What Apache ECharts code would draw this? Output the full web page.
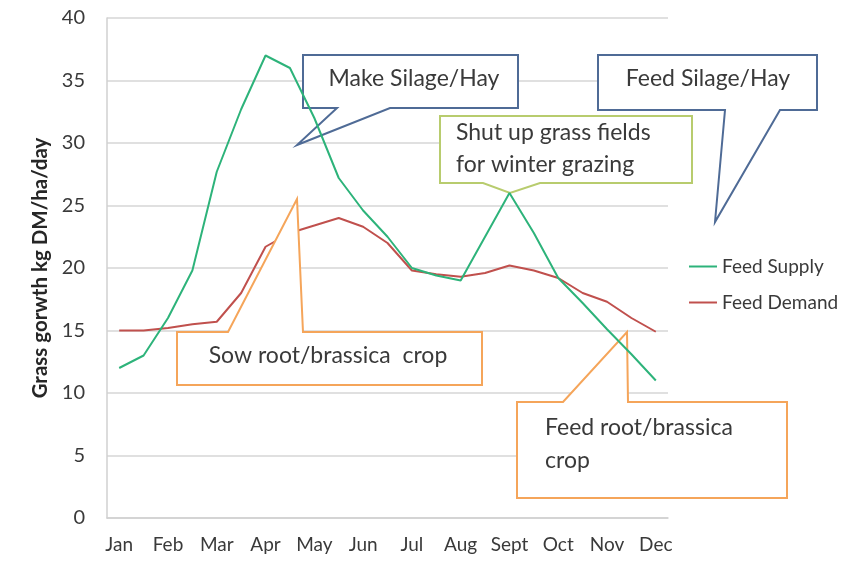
<!DOCTYPE html>
<html>
<head>
<meta charset="utf-8">
<script src="https://cdn.jsdelivr.net/npm/echarts@6/dist/echarts.min.js"></script>
<style>
  html, body { margin: 0; padding: 0; background: #fff; }
  #chart { width: 865px; height: 563px; }
</style>
</head>
<body>
<div id="chart"></div>
<script>
// half-month points, month name on every other one
const months = ['Jan', '', 'Feb', '', 'Mar', '', 'Apr', '', 'May', '', 'Jun', '',
  'Jul', '', 'Aug', '', 'Sept', '', 'Oct', '', 'Nov', '', 'Dec'];
const feedSupply = [12.0, 13.0, 16.0, 19.8, 27.7, 32.7, 37.0, 36.0, 32.0, 27.2, 24.6, 22.5,
  20.0, 19.4, 19.0, 22.5, 26.0, 22.8, 19.2, 17.2, 15.1, 13.1, 11.0];
const feedDemand = [15.0, 15.0, 15.2, 15.5, 15.7, 18.0, 21.7, 22.8, 23.4, 24.0, 23.3, 22.0,
  19.8, 19.5, 19.3, 19.6, 20.2, 19.8, 19.2, 18.0, 17.3, 16.0, 14.9];
const yTicks = [0, 5, 10, 15, 20, 25, 30, 35, 40];

const FONT = 'Lato, "Open Sans", sans-serif';
const TEXT = '#3a3a3a';

// callout box with a pointer on the bottom or top edge
function callout(box, base, tip, color, onTop) {
  const [x1, y1, x2, y2] = box;
  const pts = onTop
    ? [[x1, y1], [base[0], y1], tip, [base[1], y1], [x2, y1], [x2, y2], [x1, y2]]
    : [[x1, y1], [x2, y1], [x2, y2], [base[1], y2], tip, [base[0], y2], [x1, y2]];
  return {
    type: 'polygon', z: 5,
    shape: { points: pts },
    style: { fill: '#fff', stroke: color, lineWidth: 2 }
  };
}
function label(x, y, text, align) {
  return {
    type: 'text', z: 6,
    style: {
      x: x, y: y, text: text, fill: TEXT,
      font: '23px ' + FONT,
      textAlign: align || 'center', textVerticalAlign: 'middle'
    }
  };
}

const chart = echarts.init(document.getElementById('chart'));

const option = {
  animation: false,
  grid: { left: 107, right: 197, top: 18, bottom: 45 },
  legend: {
    orient: 'vertical',
    left: 689, top: 257, padding: 0,
    icon: 'rect',
    itemWidth: 28, itemHeight: 2, itemGap: 17,
    textStyle: { color: TEXT, fontSize: 19, fontFamily: FONT },
    data: ['Feed Supply', 'Feed Demand']
  },
  xAxis: {
    type: 'category',
    data: months,
    axisTick: { show: false },
    axisLine: { lineStyle: { color: '#d0d0d0', width: 1.5 } },
    axisLabel: { interval: 0, color: TEXT, fontSize: 19, fontFamily: FONT, margin: 17 }
  },
  yAxis: {
    type: 'value',
    min: yTicks[0], max: yTicks[yTicks.length - 1], interval: 5,
    name: 'Grass gorwth kg DM/ha/day',
    nameLocation: 'middle', nameGap: 55, nameRotate: 90,
    nameTextStyle: { color: '#262626', fontSize: 20.5, fontWeight: 'bold', fontFamily: FONT },
    axisLine: { show: true, lineStyle: { color: '#d0d0d0', width: 1.5 } },
    axisTick: { show: false },
    splitLine: { lineStyle: { color: '#d6d6d6', width: 1.5 } },
    axisLabel: { color: TEXT, fontSize: 20, fontFamily: FONT, margin: 22 }
  },
  series: [
    {
      name: 'Feed Supply', type: 'line', z: 10,
      data: feedSupply, symbol: 'none',
      lineStyle: { color: '#2db37a', width: 2 }, itemStyle: { color: '#2db37a' }
    },
    {
      name: 'Feed Demand', type: 'line', z: 2,
      data: feedDemand, symbol: 'none',
      lineStyle: { color: '#c0504d', width: 2 }, itemStyle: { color: '#c0504d' }
    }
  ],
  graphic: [
    callout([303, 55, 518, 108], [337, 390], [297, 145], '#4f6b96', false),
    label(414, 79, 'Make Silage/Hay'),
    callout([598, 55, 817, 110], [725, 780], [715, 222], '#4f6b96', false),
    label(708, 79, 'Feed Silage/Hay'),
    callout([440, 116, 692, 183], [483, 540], [510, 193], '#b8cc6e', false),
    label(456, 133, 'Shut up grass fields', 'left'),
    label(456, 165, 'for winter grazing', 'left'),
    callout([177, 332, 482, 385], [228, 303], [297, 199], '#f5a55a', true),
    label(328, 356, 'Sow root/brassica  crop'),
    callout([517, 402, 787, 498], [563, 628], [627, 332], '#f5a55a', true),
    label(545, 428, 'Feed root/brassica', 'left'),
    label(545, 461, 'crop', 'left')
  ]
};

option && chart.setOption(option);
</script>
</body>
</html>
